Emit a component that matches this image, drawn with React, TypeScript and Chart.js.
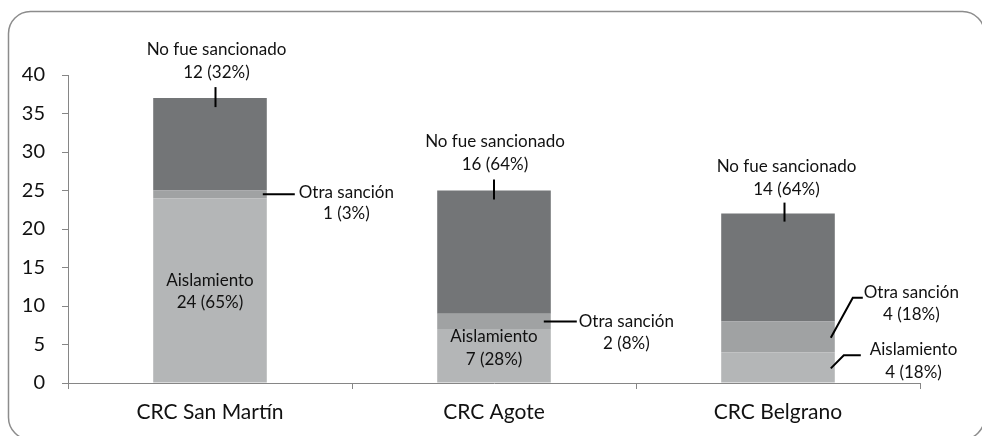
import React, { useEffect, useRef } from "react";
import { Chart, registerables } from "chart.js";

Chart.register(...registerables);

const categories = ["CRC San Martín", "CRC Agote", "CRC Belgrano"];
const seriesNames = ["Aislamiento", "Otra sanción", "No fue sancionado"];
const aislamiento = [24, 7, 4];
const otraSancion = [1, 2, 4];
const noFueSancionado = [12, 16, 14];
const aislamientoPct = [65, 28, 18];
const otraSancionPct = [3, 8, 18];
const noFueSancionadoPct = [32, 64, 64];
const yMax = 40;
const yStep = 5;

const colors = ["#b4b6b7", "#a0a2a3", "#737577"];
const FONT = "Lato, 'Open Sans', sans-serif";

type Ann = {
  cat: number;
  ds: number;
  ref: "top" | "mid" | "right";
  pts: number[][];
  tx: number;
  ty: number;
  align: "center" | "left";
  gap: number;
};
const annLayout: Ann[] = [
  { cat: 0, ds: 2, ref: "top", pts: [[5.5, -11], [5.5, 9]], tx: 6.5, ty: -49, align: "center", gap: 23 },
  { cat: 0, ds: 1, ref: "right", pts: [[-4, 0], [28, 0]], tx: 32, ty: -2, align: "left", gap: 21 },
  { cat: 0, ds: 0, ref: "mid", pts: [], tx: 0, ty: -10, align: "center", gap: 22 },
  { cat: 1, ds: 2, ref: "top", pts: [[0, -11], [0, 9]], tx: 1, ty: -49, align: "center", gap: 23 },
  { cat: 1, ds: 1, ref: "right", pts: [[-7, 0], [26, 0]], tx: 28, ty: 0, align: "left", gap: 22 },
  { cat: 1, ds: 0, ref: "mid", pts: [], tx: 0, ty: -19, align: "center", gap: 23 },
  { cat: 2, ds: 2, ref: "top", pts: [[6.5, -11], [6.5, 8]], tx: 8.5, ty: -47, align: "center", gap: 23 },
  { cat: 2, ds: 1, ref: "right", pts: [[-4, 1], [18, -39], [28, -39]], tx: 29, ty: -44, align: "left", gap: 22 },
  { cat: 2, ds: 0, ref: "right", pts: [[-4, 1], [9, -12], [26, -12]], tx: 35, ty: -18, align: "left", gap: 23 },
];

const values = [aislamiento, otraSancion, noFueSancionado];
const pcts = [aislamientoPct, otraSancionPct, noFueSancionadoPct];

const framePlugin = {
  id: "frame",
  beforeDraw(chart: any) {
    const ctx = chart.ctx;
    ctx.save();
    ctx.fillStyle = "#ffffff";
    ctx.fillRect(0, 0, chart.width, chart.height);
    ctx.strokeStyle = "#8c8c8c";
    ctx.lineWidth = 1.5;
    ctx.beginPath();
    (ctx as any).roundRect(8.5, 11.5, 976, 428, 22);
    ctx.stroke();
    ctx.restore();
  },
};

const annPlugin = {
  id: "anns",
  afterDatasetsDraw(chart: any) {
    const ctx = chart.ctx;
    ctx.save();
    ctx.font = `17px ${FONT}`;
    ctx.fillStyle = "#111";
    ctx.strokeStyle = "#000";
    ctx.lineWidth = 2;
    ctx.textBaseline = "middle";
    for (const a of annLayout) {
      const el: any = chart.getDatasetMeta(a.ds).data[a.cat];
      const topEl: any = chart.getDatasetMeta(2).data[a.cat];
      const segMid = (el.y + el.base) / 2;
      let rx = el.x;
      let ry = segMid;
      if (a.ref === "top") {
        rx = el.x;
        ry = topEl.y;
      } else if (a.ref === "right") {
        rx = el.x + el.width / 2;
        ry = segMid;
      }
      if (a.pts.length) {
        ctx.beginPath();
        a.pts.forEach((p, i) => {
          if (i === 0) ctx.moveTo(rx + p[0], ry + p[1]);
          else ctx.lineTo(rx + p[0], ry + p[1]);
        });
        ctx.stroke();
      }
      const l1 = seriesNames[a.ds];
      const l2 = `${values[a.ds][a.cat]} (${pcts[a.ds][a.cat]}%)`;
      let cx = rx + a.tx;
      if (a.align === "left") {
        cx = rx + a.tx + ctx.measureText(l1).width / 2;
      }
      ctx.textAlign = "center";
      ctx.fillText(l1, cx, ry + a.ty);
      ctx.fillText(l2, cx, ry + a.ty + a.gap);
    }
    ctx.restore();
  },
};

export default function App() {
  const ref = useRef<HTMLCanvasElement | null>(null);
  useEffect(() => {
    let chart: any = null;
    let cancelled = false;
    const make = () => {
      if (cancelled || !ref.current) return;
      chart = new Chart(ref.current, {
        type: "bar",
        data: {
          labels: categories,
          datasets: seriesNames.map((name, i) => ({
            label: name,
            data: values[i],
            backgroundColor: colors[i],
            borderWidth: 0,
            categoryPercentage: 1,
            barPercentage: 0.4,
          })),
        },
        options: {
          responsive: false,
          animation: false,
          layout: { padding: { left: 0, right: 62, top: 75, bottom: 0 } },
          plugins: { legend: { display: false }, tooltip: { enabled: false } },
          scales: {
            x: {
              stacked: true,
              grid: { offset: true, drawOnChartArea: false, tickLength: 6, color: "#868686" },
              border: { color: "#868686", width: 1 },
              ticks: { font: { family: FONT, size: 21 }, color: "#111", padding: 11 },
              afterFit: (s: any) => {
                s.height = 53;
              },
            },
            y: {
              stacked: true,
              min: 0,
              max: yMax,
              grid: { drawOnChartArea: false, tickLength: 6, color: "#868686" },
              border: { color: "#868686", width: 1 },
              ticks: { stepSize: yStep, font: { family: FONT, size: 20 }, color: "#111", padding: 17 },
              afterFit: (s: any) => {
                s.width = 68;
              },
            },
          },
        },
        plugins: [framePlugin, annPlugin],
      } as any);
    };
    const fonts: any = (document as any).fonts;
    if (fonts && fonts.load) {
      Promise.all([fonts.load(`17px Lato`), fonts.load(`21px Lato`)]).then(make, make);
    } else make();
    return () => {
      cancelled = true;
      if (chart) chart.destroy();
    };
  }, []);
  return (
    <div style={{ position: "absolute", left: 0, top: 0, width: 982, height: 436 }}>
      <canvas ref={ref} width={982} height={436} style={{ display: "block" }} />
    </div>
  );
}
